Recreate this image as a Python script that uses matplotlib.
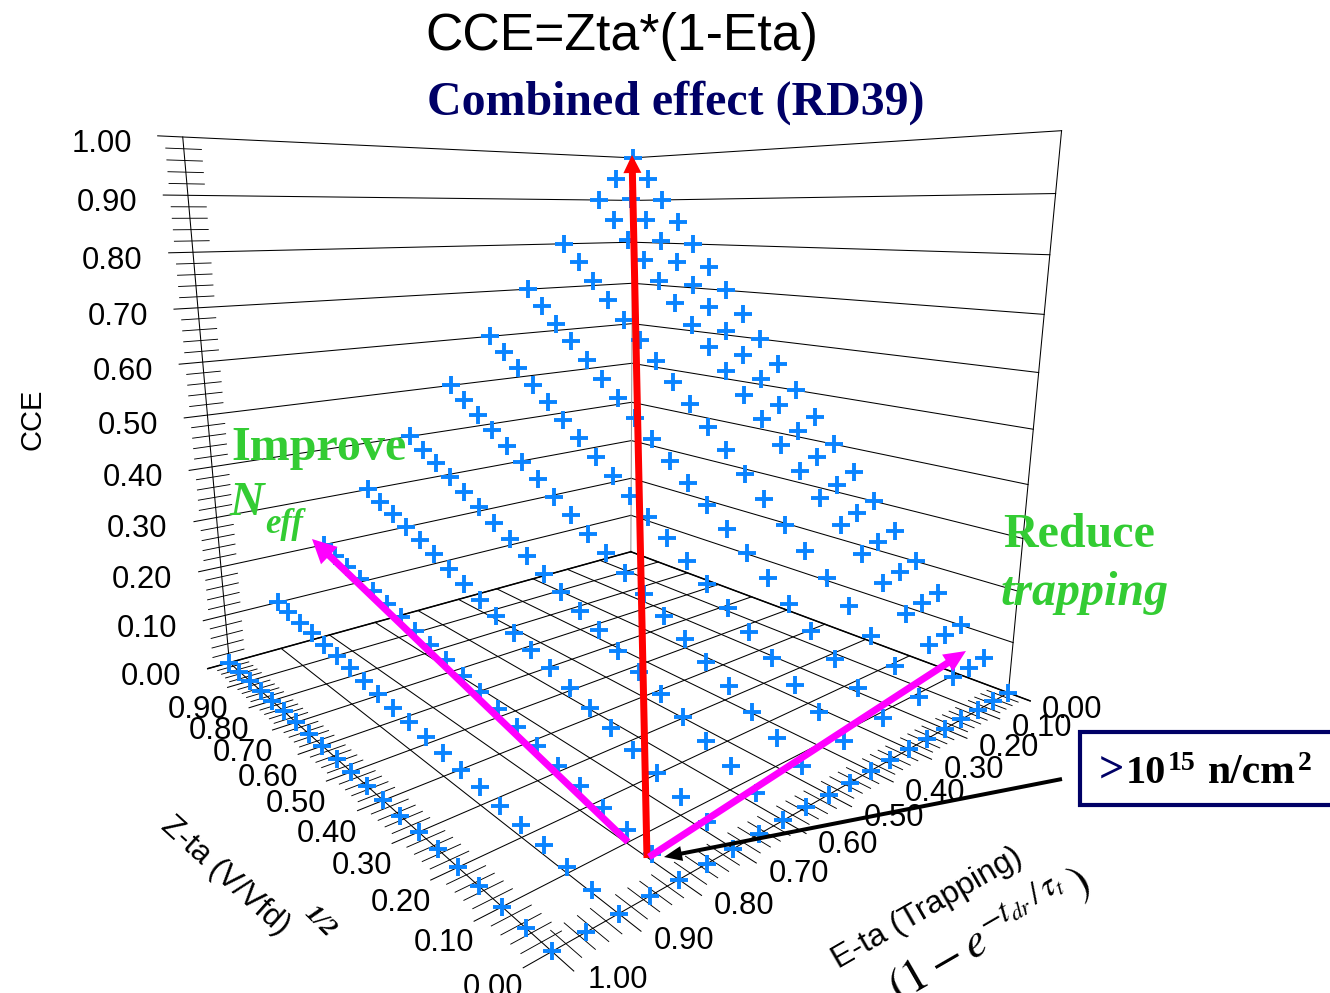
import matplotlib
matplotlib.use("Agg")
import matplotlib.pyplot as plt
import numpy as np
from matplotlib.patches import Rectangle
from mpl_toolkits.mplot3d import proj3d

plt.rcParams["font.family"] = ["Liberation Sans", "DejaVu Sans"]
plt.rcParams["mathtext.fontset"] = "stix"

# data
eta = [0.0, 0.05, 0.1, 0.2, 0.3, 0.4, 0.5, 0.6, 0.7, 0.8, 0.9, 1.0]
zta = [0.00, 0.05, 0.10, 0.15, 0.20, 0.25, 0.30, 0.35, 0.40, 0.45, 0.50,
       0.55, 0.60, 0.65, 0.70, 0.75, 0.80, 0.85, 0.90, 0.95, 1.00]
cce = [
    [0, .05, .10, .15, .20, .25, .30, .35, .40, .45, .50, .55, .60, .65, .70, .75, .80, .85, .90, .95, 1.0],
    [0, .0475, .095, .1425, .19, .2375, .285, .3325, .38, .4275, .475, .5225, .57, .6175, .665, .7125, .76, .8075, .855, .9025, .95],
    [0, .045, .09, .135, .18, .225, .27, .315, .36, .405, .45, .495, .54, .585, .63, .675, .72, .765, .81, .855, .90],
    [0, .04, .08, .12, .16, .20, .24, .28, .32, .36, .40, .44, .48, .52, .56, .60, .64, .68, .72, .76, .80],
    [0, .035, .07, .105, .14, .175, .21, .245, .28, .315, .35, .385, .42, .455, .49, .525, .56, .595, .63, .665, .70],
    [0, .03, .06, .09, .12, .15, .18, .21, .24, .27, .30, .33, .36, .39, .42, .45, .48, .51, .54, .57, .60],
    [0, .025, .05, .075, .10, .125, .15, .175, .20, .225, .25, .275, .30, .325, .35, .375, .40, .425, .45, .475, .50],
    [0, .02, .04, .06, .08, .10, .12, .14, .16, .18, .20, .22, .24, .26, .28, .30, .32, .34, .36, .38, .40],
    [0, .015, .03, .045, .06, .075, .09, .105, .12, .135, .15, .165, .18, .195, .21, .225, .24, .255, .27, .285, .30],
    [0, .01, .02, .03, .04, .05, .06, .07, .08, .09, .10, .11, .12, .13, .14, .15, .16, .17, .18, .19, .20],
    [0, .005, .01, .015, .02, .025, .03, .035, .04, .045, .05, .055, .06, .065, .07, .075, .08, .085, .09, .095, .10],
    [0, 0, 0, 0, 0, 0, 0, 0, 0, 0, 0, 0, 0, 0, 0, 0, 0, 0, 0, 0, 0],
]
# the zta=0 edge is sampled finer in eta
edge_eta = [0.15, 0.25, 0.35, 0.45, 0.55, 0.65, 0.75, 0.85, 0.95]
edge_zta = [0, 0, 0, 0, 0, 0, 0, 0, 0]
edge_cce = [0, 0, 0, 0, 0, 0, 0, 0, 0]
major = [0.0, 0.1, 0.2, 0.3, 0.4, 0.5, 0.6, 0.7, 0.8, 0.9, 1.0]
minor = [i / 50 for i in range(51)]

W, H = 1330, 993
fig = plt.figure(figsize=(W / 100, H / 100), dpi=100)

# camera fitted to the box corners of the picture; the slide was stretched a bit, so the axes are not square
rect = [100.33 / W, 93.26 / H, 984.7 / W, 930.5 / H]
ax = fig.add_axes(rect, projection="3d")
ax.apply_aspect = lambda position=None: None
ax.set_position(rect)
ax.set_xlim(0, 1)
ax.set_ylim(0, 1)
ax.set_zlim(0, 1)
ax.view_init(elev=12.1075, azim=140.0202, roll=0.0211)
ax.set_proj_type("persp", focal_length=0.19196)
ax.set_box_aspect((1, 0.9993, 1.0002))
ax.set_axis_off()
ax.computed_zorder = False


def seg(x, y, z, lw=0.75, color="black", zo=1):
    ax.plot(x, y, z, color=color, lw=lw, zorder=zo, clip_on=False)


d = 0.029
m = 0.04
for v in major:
    # floor grid, running out as major ticks
    seg([v, v], [0, 1 + m], [0, 0])
    seg([-m, 1], [v, v], [0, 0])
    # walls with the CCE ticks on the left edge
    if v > 0:
        seg([1, 1], [0, 1 + m], [v, v])
        seg([0, 1], [0, 0], [v, v])
for v in minor:
    if round(v * 50) % 5:
        seg([v, v], [1 - d, 1 + d], [0, 0], lw=0.65)
        seg([-d, d], [v, v], [0, 0], lw=0.65)
        seg([1, 1], [1 - d, 1 + d], [v, v], lw=0.65)
seg([1, 1], [1, 1], [0, 1])
seg([0, 0], [0, 0], [0, 1])
seg([1, 1], [0, 0], [0, 1], color="0.6")
seg([1, 1], [0, 1 + m], [0, 0], lw=1.1)
seg([-m, 1], [0, 0], [0, 0], lw=1.1)

plus = dict(ls="none", marker="+", ms=12.5, mew=2.8, color="#0a84ff", zorder=3, clip_on=False)
for e, row in zip(eta, cce):
    ax.plot(zta, [e] * len(zta), row, **plus)
ax.plot(edge_zta, edge_eta, edge_cce, **plus)


def tick_label(x, y, z, s, dx, dy, ha="center"):
    xv, yv, _ = proj3d.proj_transform(x, y, z, ax.get_proj())
    ax.annotate(s, (xv, yv), xytext=(dx, dy), textcoords="offset pixels", ha=ha, va="center",
                fontsize=22.3, annotation_clip=False, zorder=4)


for v in major:
    tick_label(1, 1, v, "%.2f" % v, -48 - 3 * v, -(14 - 7 * v), ha="right")
    tick_label(0, v, 0, "%.2f" % v, 64 + 2 * v, -(17 + 12 * v))
    if v < 1:
        tick_label(v, 1, 0, "%.2f" % v, -59 + 8 * v, -(37 - 9 * v))

# overlay in picture pixels for the hand drawn annotations
ov = fig.add_axes([0, 0, 1, 1], facecolor="none")
ov.set_xlim(0, W)
ov.set_ylim(H, 0)
ov.set_axis_off()

ov.text(425, 50, "CCE=Zta*(1-Eta)", fontsize=37.3, va="baseline")
ov.text(427, 115, "Combined effect (RD39)", family="Liberation Serif", weight="bold", fontsize=34.5,
        color="#000066", va="baseline")

green = "#33cc33"
serif = dict(family="Liberation Serif", weight="bold", color=green, va="baseline")
ov.text(231, 460, "Improve", fontsize=34.6, **serif)
ov.text(229, 515, "N", fontsize=34.4, style="italic", **serif)
ov.text(265, 533, "eff", fontsize=25, style="italic", **serif)
ov.text(1003, 547, "Reduce", fontsize=34.6, **serif)
ov.text(1001, 605, "trapping", fontsize=34.6, style="italic", **serif)

ov.text(32, 419, "CCE", fontsize=21, rotation=90, ha="center", va="center")
ov.text(225, 876, "Z-ta (V/Vfd)", fontsize=22.5, rotation=-42, ha="center", va="center", rotation_mode="anchor")
ov.text(320, 921, "1/2", fontsize=19, family="Liberation Serif", weight="bold", style="italic", rotation=-45,
        ha="center", va="center", rotation_mode="anchor")
ov.text(927, 908, "E-ta (Trapping)", fontsize=23, rotation=30, ha="center", va="center", rotation_mode="anchor")
ov.text(989, 933, r"$(1-e^{-t_{dr}\,/\,\tau_t}\,)$", fontsize=34, rotation=30, ha="center", va="center",
        rotation_mode="anchor")


def arrow(tail, tip, color, width, head_w, head_l):
    ov.arrow(tail[0], tail[1], tip[0] - tail[0], tip[1] - tail[1], width=width, head_width=head_w, head_length=head_l,
             length_includes_head=True, fc=color, ec="none", zorder=5)


arrow((647, 858), (632, 155), "#ff0000", 7, 18, 18)
arrow((628, 842), (312, 539), "#ff00ff", 7, 24, 24)
arrow((649, 857), (966, 651), "#ff00ff", 7, 20, 22)
arrow((1062, 779), (664, 857), "black", 4, 15, 18)

ov.add_patch(Rectangle((1080, 732), 270, 73, fc="white", ec="#000066", lw=3))
box = dict(family="Liberation Serif", weight="bold", va="baseline")
ov.text(1099, 783, ">", fontsize=32, color="#000066", **box)
ov.text(1126, 783, "10", fontsize=29, **box)
ov.text(1168, 770, "15", fontsize=20, **box)
ov.text(1208, 783, "n/cm", fontsize=30, **box)
ov.text(1298, 770, "2", fontsize=20, **box)

fig.savefig("out.png", dpi=100)
